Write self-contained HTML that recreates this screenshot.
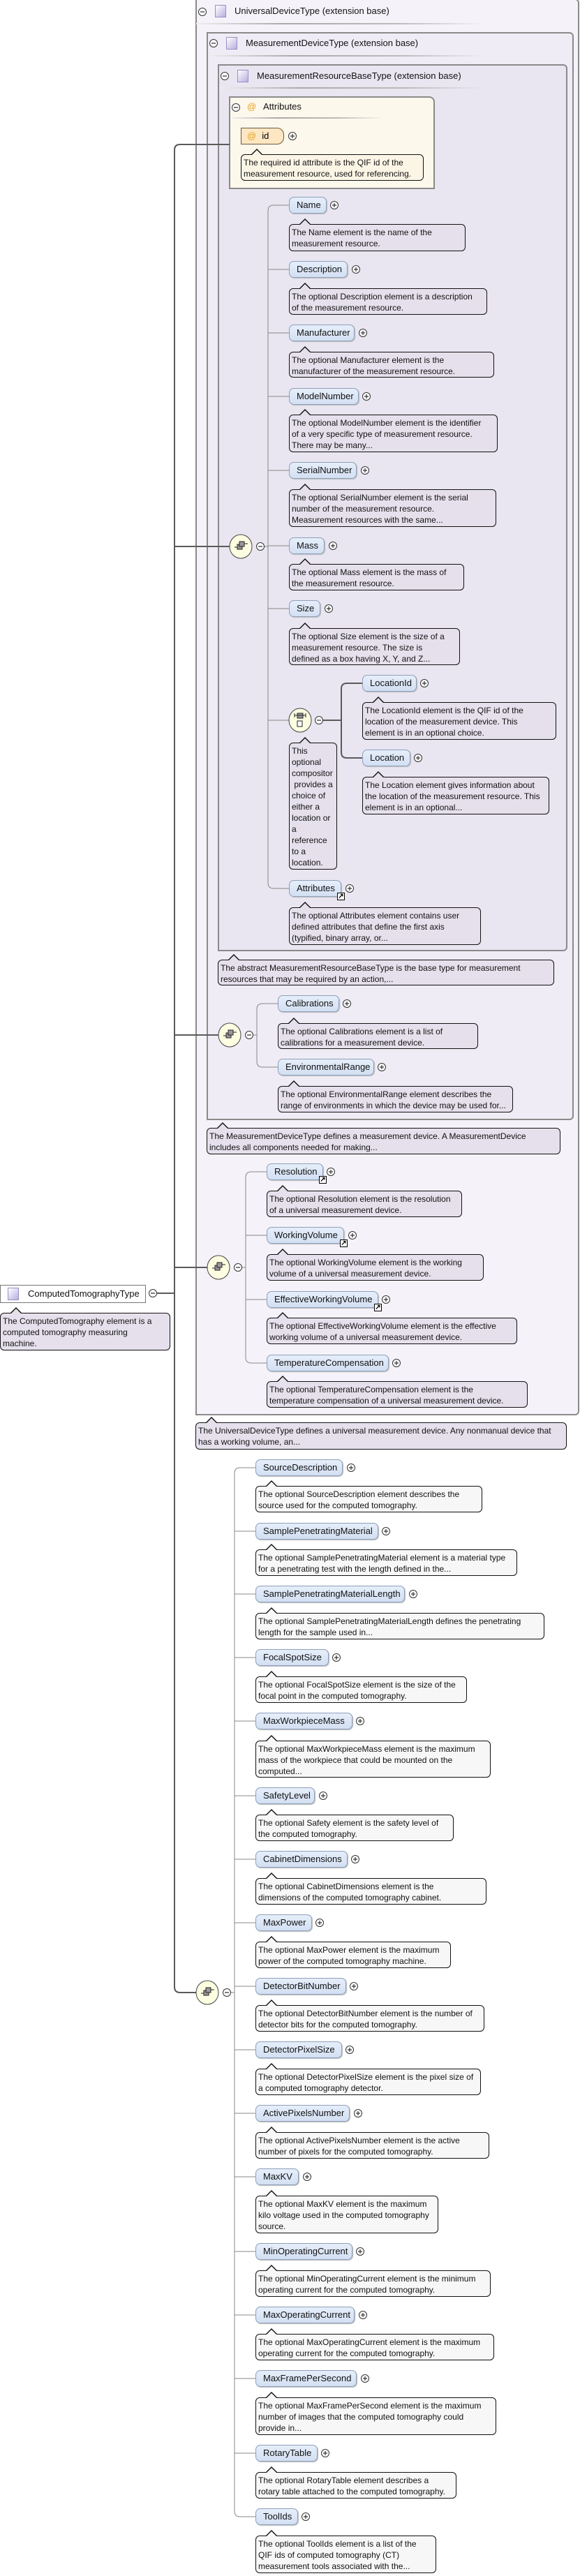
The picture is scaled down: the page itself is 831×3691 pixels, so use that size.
<!DOCTYPE html>
<html><head><meta charset="utf-8">
<style>
*{box-sizing:border-box;margin:0;padding:0}
body{width:831px;height:3691px;position:relative;background:#fff;font-family:"Liberation Sans",sans-serif;overflow:hidden}
.bx{position:absolute;border:2px solid #8a8a8a;border-radius:0 6px 6px 0}
.hd{position:absolute;font-size:13px;line-height:16px;color:#111;white-space:nowrap}
.sq{position:absolute;width:16px;height:18px;border:1px solid #9a8fc0;background:linear-gradient(135deg,#fff,#b9aee0)}
.ul{position:absolute;height:2px;background:linear-gradient(90deg,#eee,#aaa 30%,#bbb 70%,rgba(255,255,255,0))}
.el{position:absolute;height:24px;border:1px solid #8ea0bb;border-radius:7px;background:linear-gradient(#e6eefa,#d3e0f3);font-size:13px;line-height:22px;padding-left:10px;color:#111;white-space:nowrap;box-shadow:1px 1px 1px #bbb}
.d{position:absolute;border:1px solid #111;border-radius:6px;background:#e5e0ec;font-size:12px;line-height:16px;padding:3px 3px;color:#111;white-space:nowrap}
.d.w{background:#f7f7f7}
.d.y{background:#fbf5e6}
.d::before{content:"";position:absolute;left:14px;top:-9px;border:8px solid transparent;border-top:0;border-bottom:8px solid #111}
.d::after{content:"";position:absolute;left:15px;top:-7px;border:7px solid transparent;border-top:0;border-bottom:7px solid #e5e0ec}
.d.w::after{border-bottom-color:#f7f7f7}
.d.y::after{border-bottom-color:#fbf5e6}
.lk{position:absolute;width:11px;height:11px;border:1px solid #000;background:#fff;font-size:10px;line-height:9px;text-align:center;font-weight:bold}
</style></head><body>

<!-- containers -->
<div class="bx" style="left:280px;top:-2px;width:550px;height:2030px;background:#f5f3f9"></div>
<div class="bx" style="left:296px;top:46px;width:526px;height:1559px;background:#efecf5"></div>
<div class="bx" style="left:312px;top:92px;width:501px;height:1271px;background:#e9e6f1"></div>
<div class="bx" style="left:328px;top:138px;width:295px;height:133px;background:#fdf8ec;border-radius:0 8px 0 0"></div>

<div class="sq" style="left:308px;top:7px"></div><div class="hd" style="left:336px;top:8px">UniversalDeviceType (extension base)</div><div class="ul" style="left:281px;top:33px;width:414px"></div>
<div class="sq" style="left:324px;top:53px"></div><div class="hd" style="left:352px;top:54px">MeasurementDeviceType (extension base)</div><div class="ul" style="left:298px;top:79px;width:397px"></div>
<div class="sq" style="left:340px;top:100px"></div><div class="hd" style="left:368px;top:101px">MeasurementResourceBaseType (extension base)</div><div class="ul" style="left:314px;top:125px;width:381px"></div>
<div class="hd" style="left:354px;top:145px;color:#e8a020">@</div><div class="hd" style="left:377px;top:145px">Attributes</div><div class="ul" style="left:332px;top:168px;width:218px"></div>

<svg style="position:absolute;left:0;top:0" width="831" height="3691" xmlns="http://www.w3.org/2000/svg">
<g fill="none" stroke="#5a5a5a" stroke-width="2">
<path d="M329,207 H258 Q250,207 250,215 V2847 Q250,2855 258,2855 H281"/>
<path d="M250,783 H329 M250,1483 H313 M250,1816 H297 M225,1853 H250"/>
<path d="M462,1032 H489 M489,1032 V987 Q489,979 497,979 H519 M489,1032 V1078 Q489,1086 497,1086 H519"/>
</g>
<g fill="none" stroke="#888" stroke-width="1">
<path d="M414,294 H392 Q384,294 384,302 V1265 Q384,1273 392,1273 H414"/>
<path d="M378,783 H384 M384,386 H414 M384,477 H414 M384,568 H414 M384,674 H414 M384,782 H414 M384,872 H414 M384,1032 H414"/>
<path d="M398,1438 H376 Q368,1438 368,1446 V1521 Q368,1529 376,1529 H398 M362,1483 H368"/>
<path d="M382,1679 H360 Q352,1679 352,1687 V1945 Q352,1953 360,1953 H382 M346,1816 H352 M352,1770 H382 M352,1862 H382"/>
<path d="M366,2103 H344 Q336,2103 336,2111 V3598 Q336,3606 344,3606 H366 M330,2855 H336
M336,2194 H366 M336,2284 H366 M336,2375 H366 M336,2466 H366 M336,2573 H366 M336,2664 H366 M336,2755 H366 M336,2846 H366 M336,2937 H366 M336,3028 H366 M336,3119 H366 M336,3226 H366 M336,3317 H366 M336,3408 H366 M336,3515 H366"/>
</g>
<!-- minus circles -->
<g fill="#fff" stroke="#333" stroke-width="1">
<circle cx="290" cy="17" r="5.5"/><circle cx="306" cy="62" r="5.5"/><circle cx="322" cy="109" r="5.5"/><circle cx="338" cy="154" r="5.5"/>
<circle cx="373" cy="783" r="5.5"/><circle cx="457" cy="1032" r="5.5"/><circle cx="357" cy="1483" r="5.5"/><circle cx="341" cy="1816" r="5.5"/><circle cx="325" cy="2855" r="5.5"/><circle cx="219" cy="1853" r="5.5"/>
</g>
<g stroke="#333" stroke-width="1.2">
<path d="M287,17h6 M303,62h6 M319,109h6 M335,154h6 M370,783h6 M454,1032h6 M354,1483h6 M338,1816h6 M322,2855h6 M216,1853h6"/>
</g>
<!-- compositor icons -->
<g stroke="#444" stroke-width="1" fill="#fdfde2">
<ellipse cx="345" cy="783" rx="16" ry="17"/><ellipse cx="430" cy="1032" rx="16" ry="17"/><ellipse cx="329" cy="1483" rx="16" ry="17"/><ellipse cx="313" cy="1816" rx="16" ry="17"/><ellipse cx="297" cy="2855" rx="16" ry="17"/>
</g>
<g id="seq" fill="#999" stroke="#222" stroke-width="1">
<rect x="340" y="780" width="7" height="7"/><rect x="343" y="776" width="7" height="7"/><path d="M336,784h4 M350,779h5" fill="none"/>
<rect x="324" y="1480" width="7" height="7"/><rect x="327" y="1476" width="7" height="7"/><path d="M320,1484h4 M334,1479h5" fill="none"/>
<rect x="308" y="1813" width="7" height="7"/><rect x="311" y="1809" width="7" height="7"/><path d="M304,1817h4 M318,1812h5" fill="none"/>
<rect x="292" y="2852" width="7" height="7"/><rect x="295" y="2848" width="7" height="7"/><path d="M288,2856h4 M302,2851h5" fill="none"/>
<rect x="426" y="1022" width="8" height="7"/><rect x="426" y="1033" width="7" height="8" fill="#fff"/><path d="M422,1025h16 M422,1022v6 M438,1022v6" fill="none"/>
</g>
<!-- plus circles -->
<g fill="#fff" stroke="#333" stroke-width="1">
<circle cx="419" cy="195" r="5.5"/>
<circle cx="479" cy="294" r="5.5"/><circle cx="510" cy="386" r="5.5"/><circle cx="520" cy="477" r="5.5"/><circle cx="525" cy="568" r="5.5"/><circle cx="523" cy="674" r="5.5"/><circle cx="477" cy="782" r="5.5"/><circle cx="471" cy="872" r="5.5"/><circle cx="608" cy="979" r="5.5"/><circle cx="599" cy="1086" r="5.5"/><circle cx="501" cy="1273" r="5.5"/>
<circle cx="497" cy="1438" r="5.5"/><circle cx="547" cy="1529" r="5.5"/>
<circle cx="474" cy="1679" r="5.5"/><circle cx="505" cy="1770" r="5.5"/><circle cx="553" cy="1862" r="5.5"/><circle cx="568" cy="1953" r="5.5"/>
<circle cx="503" cy="2103" r="5.5"/><circle cx="553" cy="2194" r="5.5"/><circle cx="592" cy="2284" r="5.5"/><circle cx="482" cy="2375" r="5.5"/><circle cx="516" cy="2466" r="5.5"/><circle cx="463" cy="2573" r="5.5"/><circle cx="509" cy="2664" r="5.5"/><circle cx="458" cy="2755" r="5.5"/><circle cx="507" cy="2846" r="5.5"/><circle cx="501" cy="2937" r="5.5"/><circle cx="513" cy="3028" r="5.5"/><circle cx="440" cy="3119" r="5.5"/><circle cx="516" cy="3226" r="5.5"/><circle cx="520" cy="3317" r="5.5"/><circle cx="523" cy="3408" r="5.5"/><circle cx="466" cy="3515" r="5.5"/><circle cx="438" cy="3606" r="5.5"/>
</g>
<g stroke="#333" stroke-width="1.2" fill="none">
<path d="M416,195h6m-3,-3v6 M476,294h6m-3,-3v6 M507,386h6m-3,-3v6 M517,477h6m-3,-3v6 M522,568h6m-3,-3v6 M520,674h6m-3,-3v6 M474,782h6m-3,-3v6 M468,872h6m-3,-3v6 M605,979h6m-3,-3v6 M596,1086h6m-3,-3v6 M498,1273h6m-3,-3v6
M494,1438h6m-3,-3v6 M544,1529h6m-3,-3v6 M471,1679h6m-3,-3v6 M502,1770h6m-3,-3v6 M550,1862h6m-3,-3v6 M565,1953h6m-3,-3v6
M500,2103h6m-3,-3v6 M550,2194h6m-3,-3v6 M589,2284h6m-3,-3v6 M479,2375h6m-3,-3v6 M513,2466h6m-3,-3v6 M460,2573h6m-3,-3v6 M506,2664h6m-3,-3v6 M455,2755h6m-3,-3v6 M504,2846h6m-3,-3v6 M498,2937h6m-3,-3v6 M510,3028h6m-3,-3v6 M437,3119h6m-3,-3v6 M513,3226h6m-3,-3v6 M517,3317h6m-3,-3v6 M520,3408h6m-3,-3v6 M463,3515h6m-3,-3v6 M435,3606h6m-3,-3v6"/>
</g>
</svg>

<!-- id attribute -->
<div style="position:absolute;left:345px;top:183px;width:62px;height:24px;border:1px solid #6b5a3a;border-radius:0 10px 10px 0;background:#fde7c2;font-size:13px;line-height:22px;white-space:nowrap"><span style="color:#e8a020;margin-left:8px">@</span><span style="margin-left:8px">id</span></div>
<div class="d y" style="left:345px;top:221px;width:262px;height:38px">The required id attribute is the QIF id of the<br>measurement resource, used for referencing.</div>

<!-- Section A -->
<div class="el" style="left:414px;top:282px;width:54px">Name</div>
<div class="d" style="left:414px;top:321px;width:253px;height:39px">The Name element is the name of the<br>measurement resource.</div>
<div class="el" style="left:414px;top:374px;width:84px">Description</div>
<div class="d" style="left:414px;top:413px;width:284px;height:38px">The optional Description element is a description<br>of the measurement resource.</div>
<div class="el" style="left:414px;top:465px;width:94px">Manufacturer</div>
<div class="d" style="left:414px;top:504px;width:294px;height:37px">The optional Manufacturer element is the<br>manufacturer of the measurement resource.</div>
<div class="el" style="left:414px;top:556px;width:100px">ModelNumber</div>
<div class="d" style="left:414px;top:594px;width:299px;height:54px">The optional ModelNumber element is the identifier<br>of a very specific type of measurement resource.<br>There may be many...</div>
<div class="el" style="left:414px;top:662px;width:97px">SerialNumber</div>
<div class="d" style="left:414px;top:701px;width:297px;height:54px">The optional SerialNumber element is the serial<br>number of the measurement resource.<br>Measurement resources with the same...</div>
<div class="el" style="left:414px;top:770px;width:51px">Mass</div>
<div class="d" style="left:414px;top:808px;width:251px;height:38px">The optional Mass element is the mass of<br>the measurement resource.</div>
<div class="el" style="left:414px;top:860px;width:45px">Size</div>
<div class="d" style="left:414px;top:900px;width:245px;height:53px">The optional Size element is the size of a<br>measurement resource. The size is<br>defined as a box having X, Y, and Z...</div>
<div class="el" style="left:519px;top:967px;width:78px">LocationId</div>
<div class="d" style="left:519px;top:1006px;width:278px;height:54px">The LocationId element is the QIF id of the<br>location of the measurement device. This<br>element is in an optional choice.</div>
<div class="el" style="left:519px;top:1074px;width:69px">Location</div>
<div class="d" style="left:519px;top:1113px;width:268px;height:54px">The Location element gives information about<br>the location of the measurement resource. This<br>element is in an optional...</div>
<div class="d" style="left:414px;top:1064px;width:69px;height:182px">This<br>optional<br>compositor<br>&nbsp;provides a<br>choice of<br>either a<br>location or<br>a<br>reference<br>to a<br>location.</div>
<div class="el" style="left:414px;top:1261px;width:75px">Attributes</div>
<div class="lk" style="left:483px;top:1279px">↗</div>
<div class="d" style="left:414px;top:1300px;width:275px;height:54px">The optional Attributes element contains user<br>defined attributes that define the first axis<br>(typified, binary array, or...</div>

<div class="d" style="left:312px;top:1375px;width:482px;height:37px">The abstract MeasurementResourceBaseType is the base type for measurement<br>resources that may be required by an action,...</div>

<!-- Section B -->
<div class="el" style="left:398px;top:1426px;width:88px">Calibrations</div>
<div class="d" style="left:398px;top:1466px;width:287px;height:37px">The optional Calibrations element is a list of<br>calibrations for a measurement device.</div>
<div class="el" style="left:398px;top:1517px;width:138px">EnvironmentalRange</div>
<div class="d" style="left:398px;top:1556px;width:337px;height:38px">The optional EnvironmentalRange element describes the<br>range of environments in which the device may be used for...</div>

<div class="d" style="left:296px;top:1616px;width:507px;height:38px">The MeasurementDeviceType defines a measurement device. A MeasurementDevice<br>includes all components needed for making...</div>

<!-- Section C -->
<div class="el" style="left:382px;top:1667px;width:81px">Resolution</div>
<div class="lk" style="left:457px;top:1685px">↗</div>
<div class="d" style="left:382px;top:1706px;width:280px;height:38px">The optional Resolution element is the resolution<br>of a universal measurement device.</div>
<div class="el" style="left:382px;top:1758px;width:111px">WorkingVolume</div>
<div class="lk" style="left:487px;top:1776px">↗</div>
<div class="d" style="left:382px;top:1797px;width:311px;height:38px">The optional WorkingVolume element is the working<br>volume of a universal measurement device.</div>
<div class="el" style="left:382px;top:1850px;width:160px">EffectiveWorkingVolume</div>
<div class="lk" style="left:536px;top:1868px">↗</div>
<div class="d" style="left:382px;top:1888px;width:359px;height:38px">The optional EffectiveWorkingVolume element is the effective<br>working volume of a universal measurement device.</div>
<div class="el" style="left:382px;top:1941px;width:175px">TemperatureCompensation</div>
<div class="d" style="left:382px;top:1979px;width:374px;height:38px">The optional TemperatureCompensation element is the<br>temperature compensation of a universal measurement device.</div>

<div class="d" style="left:280px;top:2038px;width:532px;height:39px">The UniversalDeviceType defines a universal measurement device. Any nonmanual device that<br>has a working volume, an...</div>

<!-- root -->
<div style="position:absolute;left:0;top:1841px;width:209px;height:26px;border:1px solid #777;background:#fff"></div>
<div class="sq" style="left:11px;top:1845px"></div>
<div class="hd" style="left:40px;top:1846px">ComputedTomographyType</div>
<div class="d" style="left:0;top:1881px;width:244px;height:54px">The ComputedTomography element is a<br>computed tomography measuring<br>machine.</div>

<!-- Section D -->
<div class="el" style="left:366px;top:2091px;width:125px">SourceDescription</div>
<div class="d w" style="left:366px;top:2129px;width:325px;height:38px">The optional SourceDescription element describes the<br>source used for the computed tomography.</div>
<div class="el" style="left:366px;top:2182px;width:176px">SamplePenetratingMaterial</div>
<div class="d w" style="left:366px;top:2220px;width:375px;height:38px">The optional SamplePenetratingMaterial element is a material type<br>for a penetrating test with the length defined in the...</div>
<div class="el" style="left:366px;top:2272px;width:214px">SamplePenetratingMaterialLength</div>
<div class="d w" style="left:366px;top:2311px;width:414px;height:38px">The optional SamplePenetratingMaterialLength defines the penetrating<br>length for the sample used in...</div>
<div class="el" style="left:366px;top:2363px;width:105px">FocalSpotSize</div>
<div class="d w" style="left:366px;top:2402px;width:303px;height:38px">The optional FocalSpotSize element is the size of the<br>focal point in the computed tomography.</div>
<div class="el" style="left:366px;top:2454px;width:139px">MaxWorkpieceMass</div>
<div class="d w" style="left:366px;top:2494px;width:337px;height:53px">The optional MaxWorkpieceMass element is the maximum<br>mass of the workpiece that could be mounted on the<br>computed...</div>
<div class="el" style="left:366px;top:2561px;width:85px">SafetyLevel</div>
<div class="d w" style="left:366px;top:2600px;width:284px;height:38px">The optional Safety element is the safety level of<br>the computed tomography.</div>
<div class="el" style="left:366px;top:2652px;width:132px">CabinetDimensions</div>
<div class="d w" style="left:366px;top:2691px;width:331px;height:38px">The optional CabinetDimensions element is the<br>dimensions of the computed tomography cabinet.</div>
<div class="el" style="left:366px;top:2743px;width:81px">MaxPower</div>
<div class="d w" style="left:366px;top:2782px;width:280px;height:38px">The optional MaxPower element is the maximum<br>power of the computed tomography machine.</div>
<div class="el" style="left:366px;top:2834px;width:130px">DetectorBitNumber</div>
<div class="d w" style="left:366px;top:2873px;width:328px;height:38px">The optional DetectorBitNumber element is the number of<br>detector bits for the computed tomography.</div>
<div class="el" style="left:366px;top:2925px;width:124px">DetectorPixelSize</div>
<div class="d w" style="left:366px;top:2964px;width:323px;height:38px">The optional DetectorPixelSize element is the pixel size of<br>a computed tomography detector.</div>
<div class="el" style="left:366px;top:3016px;width:135px">ActivePixelsNumber</div>
<div class="d w" style="left:366px;top:3055px;width:335px;height:38px">The optional ActivePixelsNumber element is the active<br>number of pixels for the computed tomography.</div>
<div class="el" style="left:366px;top:3107px;width:62px">MaxKV</div>
<div class="d w" style="left:366px;top:3146px;width:262px;height:54px">The optional MaxKV element is the maximum<br>kilo voltage used in the computed tomography<br>source.</div>
<div class="el" style="left:366px;top:3214px;width:139px">MinOperatingCurrent</div>
<div class="d w" style="left:366px;top:3253px;width:337px;height:38px">The optional MinOperatingCurrent element is the minimum<br>operating current for the computed tomography.</div>
<div class="el" style="left:366px;top:3305px;width:142px">MaxOperatingCurrent</div>
<div class="d w" style="left:366px;top:3344px;width:342px;height:38px">The optional MaxOperatingCurrent element is the maximum<br>operating current for the computed tomography.</div>
<div class="el" style="left:366px;top:3396px;width:145px">MaxFramePerSecond</div>
<div class="d w" style="left:366px;top:3435px;width:345px;height:54px">The optional MaxFramePerSecond element is the maximum<br>number of images that the computed tomography could<br>provide in...</div>
<div class="el" style="left:366px;top:3503px;width:89px">RotaryTable</div>
<div class="d w" style="left:366px;top:3542px;width:288px;height:38px">The optional RotaryTable element describes a<br>rotary table attached to the computed tomography.</div>
<div class="el" style="left:366px;top:3594px;width:61px">ToolIds</div>
<div class="d w" style="left:366px;top:3633px;width:259px;height:54px">The optional ToolIds element is a list of the<br>QIF ids of computed tomography (CT)<br>measurement tools associated with the...</div>

</body></html>
